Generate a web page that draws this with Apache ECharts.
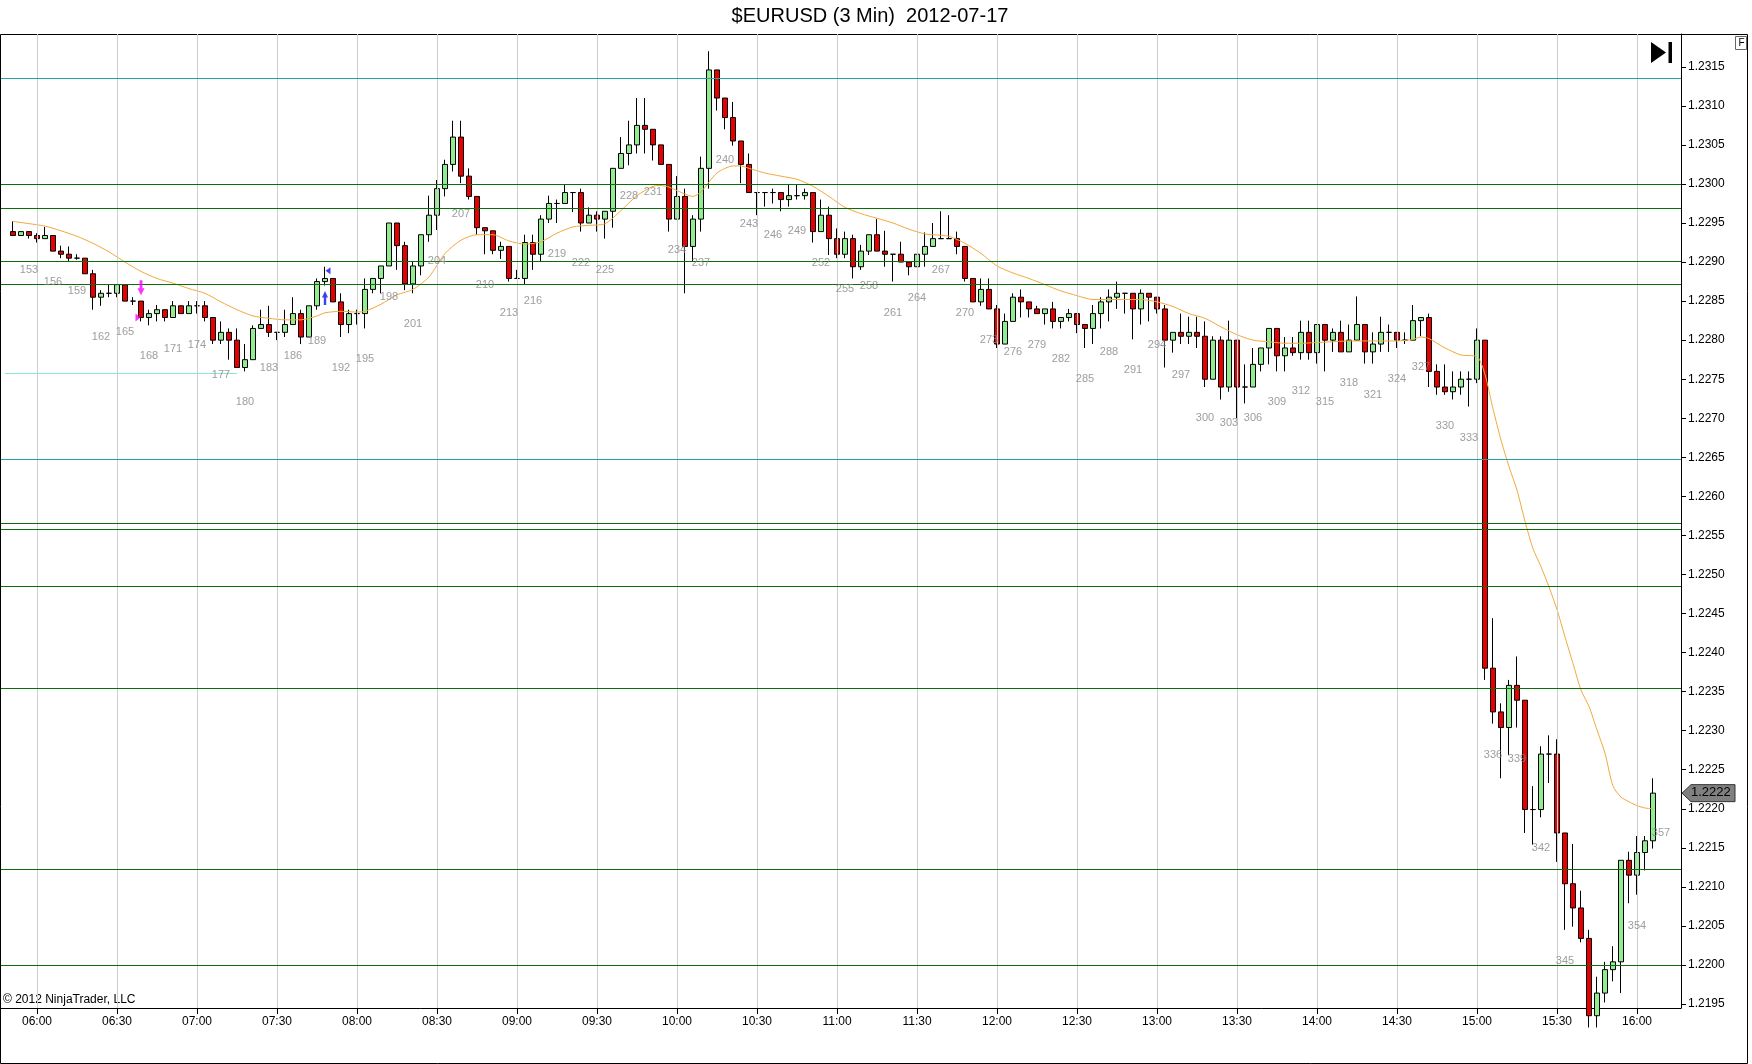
<!DOCTYPE html>
<html><head><meta charset="utf-8">
<script src="https://cdn.jsdelivr.net/npm/echarts@6/dist/echarts.min.js"></script>
<style>html,body{margin:0;padding:0;background:#fff}#c{width:1752px;height:1064px}</style>
</head><body><div id="c"></div>
<script>
// ---------------- DATA ----------------
const titleText = '$EURUSD (3 Min)  2012-07-17';
const copyrightText = '\u00A9 2012 NinjaTrader, LLC';
const firstBar = 151;
// [open, close, low, high] for bars 151..356
const bars = [
[1.22939,1.22934,1.22934,1.22952],[1.22934,1.22939,1.22934,1.22939],[1.22939,1.22934,1.22930,1.22939],[1.22934,1.22930,1.22925,1.22937],
[1.22930,1.22934,1.22930,1.22945],[1.22934,1.22914,1.22914,1.22934],[1.22914,1.22910,1.22905,1.22921],[1.22910,1.22905,1.22900,1.22920],
[1.22905,1.22905,1.22903,1.22910],[1.22905,1.22885,1.22885,1.22905],[1.22885,1.22855,1.22839,1.22890],[1.22855,1.22860,1.22844,1.22864],
[1.22860,1.22860,1.22855,1.22871],[1.22860,1.22871,1.22855,1.22871],[1.22871,1.22850,1.22850,1.22871],[1.22850,1.22850,1.22845,1.22855],
[1.22850,1.22829,1.22824,1.22850],[1.22829,1.22834,1.22819,1.22839],[1.22834,1.22839,1.22824,1.22845],[1.22839,1.22829,1.22824,1.22839],
[1.22829,1.22844,1.22829,1.22850],[1.22844,1.22834,1.22834,1.22844],[1.22834,1.22844,1.22834,1.22850],[1.22844,1.22844,1.22834,1.22850],
[1.22844,1.22829,1.22824,1.22850],[1.22829,1.22800,1.22795,1.22829],[1.22800,1.22810,1.22795,1.22824],[1.22810,1.22800,1.22775,1.22815],
[1.22800,1.22765,1.22765,1.22815],[1.22765,1.22775,1.22760,1.22795],[1.22775,1.22815,1.22775,1.22819],[1.22815,1.22820,1.22815,1.22839],
[1.22820,1.22810,1.22804,1.22844],[1.22810,1.22810,1.22800,1.22810],[1.22810,1.22820,1.22804,1.22839],[1.22820,1.22834,1.22820,1.22855],
[1.22834,1.22804,1.22795,1.22839],[1.22804,1.22844,1.22804,1.22844],[1.22844,1.22875,1.22839,1.22879],[1.22875,1.22879,1.22870,1.22894],
[1.22879,1.22849,1.22849,1.22879],[1.22849,1.22820,1.22804,1.22860],[1.22820,1.22834,1.22809,1.22839],[1.22834,1.22834,1.22820,1.22839],
[1.22834,1.22865,1.22815,1.22879],[1.22865,1.22879,1.22860,1.22879],[1.22879,1.22895,1.22860,1.22895],[1.22895,1.22950,1.22895,1.22950],
[1.22950,1.22921,1.22890,1.22950],[1.22921,1.22872,1.22864,1.22926],[1.22872,1.22895,1.22860,1.22900],[1.22895,1.22935,1.22883,1.22935],
[1.22935,1.22960,1.22926,1.22985],[1.22960,1.22994,1.22941,1.23005],[1.22994,1.23025,1.22984,1.23031],[1.23025,1.23060,1.23016,1.23081],
[1.23060,1.23010,1.23001,1.23081],[1.23010,1.22984,1.22980,1.23020],[1.22984,1.22944,1.22935,1.22984],[1.22944,1.22940,1.22910,1.22944],
[1.22940,1.22915,1.22910,1.22940],[1.22915,1.22920,1.22904,1.22926],[1.22920,1.22879,1.22875,1.22920],[1.22879,1.22879,1.22879,1.22890],
[1.22879,1.22925,1.22871,1.22935],[1.22925,1.22910,1.22890,1.22935],[1.22910,1.22955,1.22901,1.22960],[1.22955,1.22975,1.22950,1.22985],
[1.22975,1.22975,1.22950,1.22980],[1.22975,1.22989,1.22975,1.22999],[1.22989,1.22989,1.22964,1.22989],[1.22989,1.22950,1.22939,1.22994],
[1.22950,1.22960,1.22950,1.22970],[1.22960,1.22955,1.22939,1.22965],[1.22955,1.22965,1.22930,1.22965],[1.22965,1.23020,1.22944,1.23020],
[1.23020,1.23039,1.23020,1.23060],[1.23039,1.23050,1.23024,1.23081],[1.23050,1.23075,1.23039,1.23110],[1.23075,1.23070,1.23039,1.23110],
[1.23070,1.23050,1.23030,1.23070],[1.23050,1.23025,1.23025,1.23050],[1.23025,1.22955,1.22939,1.23025],[1.22955,1.22984,1.22955,1.23010],
[1.22984,1.22920,1.22860,1.22994],[1.22920,1.22955,1.22901,1.22960],[1.22955,1.23020,1.22939,1.23035],[1.23020,1.23146,1.22994,1.23170],
[1.23146,1.23110,1.23094,1.23146],[1.23110,1.23085,1.23070,1.23110],[1.23085,1.23055,1.23049,1.23105],[1.23055,1.23025,1.23001,1.23055],
[1.23025,1.22989,1.22989,1.23039],[1.22989,1.22989,1.22960,1.22989],[1.22989,1.22989,1.22971,1.22989],[1.22989,1.22989,1.22975,1.22994],
[1.22989,1.22980,1.22965,1.22989],[1.22980,1.22985,1.22971,1.22999],[1.22985,1.22985,1.22980,1.22999],[1.22985,1.22989,1.22980,1.22994],
[1.22989,1.22939,1.22925,1.22989],[1.22939,1.22960,1.22939,1.22980],[1.22960,1.22930,1.22909,1.22971],[1.22930,1.22910,1.22905,1.22943],
[1.22910,1.22930,1.22905,1.22939],[1.22930,1.22894,1.22879,1.22935],[1.22894,1.22914,1.22890,1.22922],[1.22914,1.22935,1.22909,1.22935],
[1.22935,1.22914,1.22914,1.22955],[1.22914,1.22910,1.22894,1.22940],[1.22910,1.22910,1.22875,1.22910],[1.22910,1.22900,1.22900,1.22926],
[1.22900,1.22894,1.22883,1.22900],[1.22894,1.22910,1.22894,1.22910],[1.22910,1.22920,1.22894,1.22938],[1.22920,1.22930,1.22920,1.22950],
[1.22930,1.22930,1.22930,1.22965],[1.22930,1.22930,1.22930,1.22960],[1.22930,1.22920,1.22910,1.22939],[1.22920,1.22879,1.22875,1.22920],
[1.22879,1.22849,1.22849,1.22879],[1.22849,1.22865,1.22844,1.22879],[1.22865,1.22840,1.22840,1.22879],[1.22840,1.22795,1.22790,1.22845],
[1.22795,1.22824,1.22795,1.22834],[1.22824,1.22855,1.22824,1.22860],[1.22855,1.22849,1.22829,1.22865],[1.22849,1.22840,1.22829,1.22849],
[1.22840,1.22834,1.22834,1.22844],[1.22834,1.22840,1.22820,1.22840],[1.22840,1.22824,1.22815,1.22849],[1.22824,1.22829,1.22815,1.22829],
[1.22829,1.22834,1.22824,1.22840],[1.22834,1.22820,1.22809,1.22834],[1.22820,1.22815,1.22790,1.22820],[1.22815,1.22834,1.22795,1.22845],
[1.22834,1.22849,1.22815,1.22855],[1.22849,1.22855,1.22824,1.22865],[1.22855,1.22860,1.22840,1.22875],[1.22860,1.22860,1.22834,1.22860],
[1.22860,1.22840,1.22801,1.22860],[1.22840,1.22860,1.22820,1.22865],[1.22860,1.22855,1.22824,1.22860],[1.22855,1.22840,1.22834,1.22855],
[1.22840,1.22800,1.22765,1.22845],[1.22800,1.22810,1.22784,1.22810],[1.22810,1.22805,1.22795,1.22834],[1.22805,1.22810,1.22795,1.22830],
[1.22810,1.22805,1.22790,1.22830],[1.22805,1.22750,1.22740,1.22824],[1.22750,1.22800,1.22750,1.22805],[1.22800,1.22740,1.22724,1.22805],
[1.22740,1.22800,1.22734,1.22825],[1.22800,1.22740,1.22700,1.22800],[1.22740,1.22740,1.22719,1.22769],[1.22740,1.22769,1.22740,1.22790],
[1.22769,1.22790,1.22760,1.22790],[1.22790,1.22815,1.22769,1.22815],[1.22815,1.22780,1.22760,1.22815],[1.22780,1.22790,1.22760,1.22804],
[1.22790,1.22784,1.22780,1.22804],[1.22784,1.22810,1.22775,1.22825],[1.22810,1.22784,1.22775,1.22825],[1.22784,1.22820,1.22770,1.22820],
[1.22820,1.22800,1.22760,1.22820],[1.22800,1.22810,1.22785,1.22815],[1.22810,1.22785,1.22785,1.22825],[1.22785,1.22800,1.22785,1.22820],
[1.22800,1.22820,1.22800,1.22856],[1.22820,1.22785,1.22770,1.22820],[1.22785,1.22795,1.22770,1.22810],[1.22795,1.22810,1.22785,1.22830],
[1.22810,1.22810,1.22785,1.22820],[1.22810,1.22800,1.22790,1.22810],[1.22800,1.22800,1.22795,1.22810],[1.22800,1.22825,1.22800,1.22845],
[1.22825,1.22829,1.22805,1.22829],[1.22829,1.22760,1.22740,1.22834],[1.22760,1.22740,1.22730,1.22769],[1.22740,1.22734,1.22730,1.22769],
[1.22734,1.22740,1.22724,1.22760],[1.22740,1.22750,1.22730,1.22760],[1.22750,1.22750,1.22715,1.22760],[1.22750,1.22800,1.22745,1.22815],
[1.22800,1.22380,1.22365,1.22800],[1.22380,1.22324,1.22309,1.22444],[1.22324,1.22304,1.22239,1.22335],[1.22304,1.22358,1.22269,1.22365],
[1.22358,1.22339,1.22304,1.22395],[1.22339,1.22199,1.22169,1.22339],[1.22199,1.22199,1.22154,1.22229],[1.22199,1.22270,1.22189,1.22280],
[1.22270,1.22270,1.22233,1.22294],[1.22270,1.22169,1.22132,1.22289],[1.22169,1.22104,1.22045,1.22169],[1.22104,1.22073,1.22049,1.22155],
[1.22073,1.22034,1.22029,1.22095],[1.22034,1.21935,1.21920,1.22045],[1.21935,1.21964,1.21920,1.21985],[1.21964,1.21994,1.21952,1.22004],
[1.21994,1.22004,1.21979,1.22024],[1.22004,1.22134,1.21964,1.22134],[1.22134,1.22115,1.22079,1.22145],[1.22115,1.22144,1.22090,1.22165],
[1.22144,1.22159,1.22121,1.22165],[1.22159,1.22220,1.22149,1.22239]
];
// moving-average line, read at these bars
const emaBars = [151,155,157,159,161,163,165,167,169,171,173,175,177,179,181,183,185,187,189,190,192,194,195,197,199,201,203,205,207,209,211,213,215,217,219,221,223,225,227,229,231,232,233,235,236,237,239,241,242,243,245,247,249,251,253,255,257,259,261,263,265,266,268,270,272,274,276,278,280,282,284,286,288,290,292,294,296,298,300,302,304,306,308,310,312,314,316,318,320,322,324,326,327,328,330,332,334,335,336,337,338,339,340,341,342,343,344,345,346,347,348,349,350,351,352,353,354,355,356];
const emaValues = [1.22952,1.22946,1.22940,1.22933,1.22924,1.22913,1.22900,1.22888,1.22879,1.22873,1.22866,1.22860,1.22849,1.22839,1.22831,1.22828,1.22826,1.22826,1.22831,1.22835,1.22837,1.22836,1.22837,1.22846,1.22858,1.22865,1.22881,1.22911,1.22928,1.22935,1.22935,1.22927,1.22923,1.22926,1.22937,1.22945,1.22947,1.22949,1.22966,1.22985,1.22997,1.22998,1.22996,1.22987,1.22984,1.22990,1.23014,1.23023,1.23023,1.23020,1.23014,1.23010,1.23006,1.22997,1.22984,1.22970,1.22962,1.22956,1.22950,1.22942,1.22936,1.22935,1.22933,1.22924,1.22911,1.22895,1.22886,1.22879,1.22871,1.22863,1.22857,1.22852,1.22852,1.22852,1.22852,1.22849,1.22843,1.22834,1.22828,1.22817,1.22807,1.22800,1.22798,1.22796,1.22796,1.22797,1.22798,1.22799,1.22799,1.22799,1.22799,1.22801,1.22804,1.22802,1.22790,1.22781,1.22779,1.22756,1.22712,1.22672,1.22638,1.22608,1.22568,1.22533,1.22510,1.22484,1.22455,1.22420,1.22386,1.22352,1.22331,1.22301,1.22271,1.22229,1.22215,1.22209,1.22204,1.22201,1.22200];
const greenLevels = [1.23000,1.22969,1.22901,1.22872,1.22566,1.22558,1.22485,1.22354,1.22123,1.22000];
const cyanLevels = [1.23135,1.22647];
const shortLevel = [1.22758];      // value
const shortLevelEndBar = [179];    // ends at this bar
const timeLabels = ['06:00','06:30','07:00','07:30','08:00','08:30','09:00','09:30','10:00','10:30','11:00','11:30','12:00','12:30','13:00','13:30','14:00','14:30','15:00','15:30','16:00'];
const barOf0600 = 154;
const labelStep = 3, firstLabelBar = 153;
const pendingLabelBar = 357, pendingLabelLow = 1.22209;
const lastPrice = 1.2222;
// execution markers: [bar, price]
const sellArrow = [167, 1.22867];
const sellEntry = [167, 1.22829];
const buyArrow = [190, 1.22854];
const buyExit = [190, 1.22889];
// axis ranges
const yMin = 1.219449, yMax = 1.23192;
const tickMin = 1.2195, tickMax = 1.2315, tickStep = 0.0005;
const catStart = 150, catEnd = 359;

// ---------------- BUILD ----------------
const FONT = "'Liberation Sans', Arial, Helvetica, sans-serif";
const pad = n => (n < 10 ? '0' : '') + n;
const cats = [];
for (let n = catStart; n <= catEnd; n++) {
  const m = 360 + (n - barOf0600) * 3;
  cats.push(pad(Math.floor(m / 60)) + ':' + pad(m % 60));
}
const ci = n => n - catStart;
const candleData = bars.map((r, i) => [ci(firstBar + i), r[0], r[1], r[2], r[3]]);
const emaData = emaBars.map((b, i) => [ci(b), emaValues[i]]);
const showTime = (idx, val) => timeLabels.indexOf(val) >= 0;

const PLOT = {left: 1, top: 34, width: 1680, height: 974};
const tickTop = PLOT.top + (yMax - tickMax) / (yMax - yMin) * PLOT.height;
const tickBot = PLOT.top + (yMax - tickMin) / (yMax - yMin) * PLOT.height;

const levelLines = [];
greenLevels.forEach(v => levelLines.push({yAxis: v, lineStyle: {color: '#0b6e0b', width: 1, type: 'solid'}}));
cyanLevels.forEach(v => levelLines.push({yAxis: v, lineStyle: {color: '#22a3a3', width: 1, type: 'solid'}}));
shortLevel.forEach((v, i) => levelLines.push([
  {coord: [0, v], lineStyle: {color: '#86e8d6', width: 1, type: 'solid'}},
  {coord: [ci(shortLevelEndBar[i]), v]}
]));

const arrowDown = 'path://M3,0 L7,0 L7,8 L10,8 L5,15 L0,8 L3,8 Z';
const arrowUp = 'path://M5,0 L10,7 L7,7 L7,15 L3,15 L3,7 L0,7 Z';
const triRight = 'path://M0,0 L10,6 L0,12 Z';
const triLeft = 'path://M10,0 L10,12 L0,6 Z';

const option = {
  animation: false,
  backgroundColor: '#ffffff',
  textStyle: {fontFamily: FONT},
  grid: [
    {left: PLOT.left, top: PLOT.top, width: PLOT.width, height: PLOT.height, containLabel: false},
    {left: PLOT.left, top: tickTop, width: PLOT.width, height: tickBot - tickTop, containLabel: false}
  ],
  xAxis: [
    {type: 'category', gridIndex: 0, data: cats, boundaryGap: true,
     axisLine: {show: true, lineStyle: {color: '#000', width: 1}},
     axisTick: {show: true, alignWithLabel: true, interval: showTime, length: 6, lineStyle: {color: '#000'}},
     axisLabel: {show: true, interval: showTime, color: '#000', fontSize: 12, fontFamily: FONT, margin: 8, hideOverlap: false},
     splitLine: {show: false}},
    {type: 'value', gridIndex: 1, show: false, min: 1, max: 2}
  ],
  yAxis: [
    {type: 'value', gridIndex: 0, position: 'right', min: yMin, max: yMax, scale: true,
     axisLine: {show: true, onZero: false, lineStyle: {color: '#000', width: 1}},
     axisTick: {show: false}, axisLabel: {show: false}, splitLine: {show: false}},
    {type: 'value', gridIndex: 1, position: 'right', min: tickMin, max: tickMax, interval: tickStep,
     axisLine: {show: false, onZero: false}, splitLine: {show: false},
     axisTick: {show: true, length: 5, lineStyle: {color: '#000'}},
     axisLabel: {show: true, color: '#000', fontSize: 12, fontFamily: FONT, margin: 7,
                 formatter: v => v.toFixed(4)}}
  ],
  series: [
    {id: 'vgrid', type: 'line', xAxisIndex: 0, yAxisIndex: 0, data: [], z: 1, silent: true,
     markLine: {silent: true, symbol: 'none', animation: false, label: {show: false}, precision: 8,
       lineStyle: {color: '#cfcfcf', width: 1, type: 'solid'},
       data: timeLabels.map(t => ({xAxis: cats.indexOf(t)}))}},
    {id: 'price', type: 'candlestick', xAxisIndex: 0, yAxisIndex: 0, z: 2,
     data: candleData, encode: {x: 0, y: [1, 2, 3, 4]}, barWidth: 5,
     itemStyle: {color: '#90ee90', color0: '#e60000', borderColor: '#000', borderColor0: '#000', borderColorDoji: '#000', borderWidth: 1}},
    {id: 'ema', type: 'line', xAxisIndex: 0, yAxisIndex: 0, z: 3, data: emaData,
     showSymbol: false, symbol: 'none', smooth: 0.25, connectNulls: true, silent: true,
     lineStyle: {color: '#f2a93b', width: 1}},
    {id: 'levels', type: 'line', xAxisIndex: 0, yAxisIndex: 0, data: [], z: 4, silent: true,
     markLine: {silent: true, symbol: 'none', animation: false, label: {show: false}, precision: 8, data: levelLines}},
    {id: 'labels', type: 'scatter', xAxisIndex: 0, yAxisIndex: 0, z: 5, data: [], silent: true,
     symbolSize: 0.1, itemStyle: {color: 'rgba(0,0,0,0)'},
     label: {show: true, position: 'inside', offset: [0, 31], color: '#858585', fontSize: 11, fontFamily: FONT,
             formatter: p => String(p.value[2])}},
    {id: 'marks', type: 'scatter', xAxisIndex: 0, yAxisIndex: 0, z: 6, silent: true,
     data: [
       {value: [ci(sellArrow[0]), sellArrow[1]], symbol: arrowDown, symbolSize: [7, 15], itemStyle: {color: '#ff00ff'}},
       {value: [ci(sellEntry[0]), sellEntry[1]], symbol: triRight, symbolSize: [5, 8], symbolOffset: [-3, 0], itemStyle: {color: '#ff00ff'}},
       {value: [ci(buyArrow[0]), buyArrow[1]], symbol: arrowUp, symbolSize: [6, 14], itemStyle: {color: '#1212e6'}},
       {value: [ci(buyExit[0]), buyExit[1]], symbol: triLeft, symbolSize: [5, 7], symbolOffset: [3, 0], itemStyle: {color: '#1212e6'}}
     ]}
  ],
  graphic: [
    {type: 'text', id: 'title', x: 870, y: 6, style: {text: titleText, fill: '#000', font: '20px ' + FONT, textAlign: 'center'}},
    {type: 'rect', id: 'frame', shape: {x: 0.5, y: 34.5, width: 1747, height: 1029}, style: {fill: 'none', stroke: '#000', lineWidth: 1}, z: 0, silent: true},
    {type: 'text', id: 'copy', x: 3, y: 994, style: {text: copyrightText, fill: '#000', font: '12px ' + FONT}},
    {type: 'polygon', id: 'goend', shape: {points: [[1651, 42], [1666, 52.5], [1651, 63]]}, style: {fill: '#000'}},
    {type: 'rect', id: 'goendbar', shape: {x: 1668.5, y: 42, width: 3.5, height: 21}, style: {fill: '#000'}},
    {type: 'rect', id: 'fbox', shape: {x: 1735.5, y: 36.5, width: 11, height: 13}, style: {fill: '#fff', stroke: '#666', lineWidth: 1}},
    {type: 'text', id: 'ftext', x: 1738.5, y: 38, style: {text: 'F', fill: '#000', font: '10px ' + FONT}}
  ]
};

const chart = echarts.init(document.getElementById('c'), null, {renderer: 'canvas'});
chart.setOption(option);

// bar-number labels (every 3rd bar), kept only where they fit above the time axis
const yPix = v => chart.convertToPixel({yAxisIndex: 0}, v);
const plotBottom = PLOT.top + PLOT.height;
const labelData = [];
const lastBar = firstBar + bars.length - 1;
for (let n = firstLabelBar; n <= lastBar; n += labelStep) {
  const low = bars[n - firstBar][2];
  if (yPix(low) + 31 + 6 <= plotBottom) labelData.push([ci(n), low, n]);
}
labelData.push([ci(pendingLabelBar), pendingLabelLow, pendingLabelBar]);

const yT = yPix(lastPrice);
const ax = PLOT.left + PLOT.width + 1;
chart.setOption({
  series: [{id: 'labels', data: labelData}],
  graphic: [
    {type: 'polygon', id: 'tag', shape: {points: [[ax, yT], [ax + 9, yT - 8.5], [1735, yT - 8.5], [1735, yT + 8.5], [ax + 9, yT + 8.5]]},
     style: {fill: '#808080', stroke: '#333', lineWidth: 1}, z: 10},
    {type: 'text', id: 'tagtext', x: ax + 9, y: yT - 7, z: 11, style: {text: lastPrice.toFixed(4), fill: '#000', font: '13px ' + FONT}}
  ]
});
</script>
</body></html>
